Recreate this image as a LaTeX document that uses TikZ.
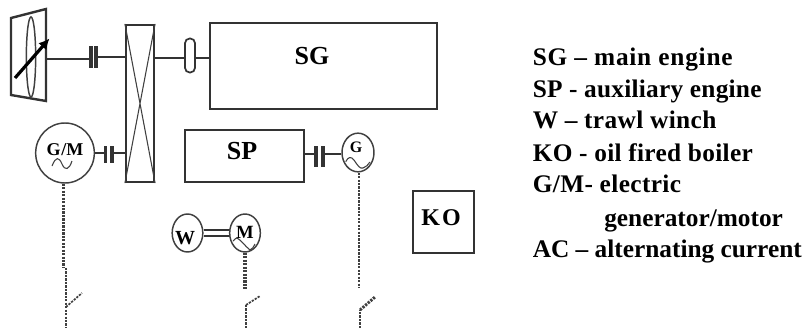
\documentclass[tikz,border=0pt]{standalone}
\usepackage{fontspec}
\setmainfont{Liberation Serif}
\usetikzlibrary{shapes.geometric,arrows.meta}
\newcommand{\lsp}[1]{\addfontfeature{LetterSpace=#1}}
\begin{document}
\begin{tikzpicture}[x=0.75pt,y=-0.75pt,
 ln/.style={draw=black!80,line width=1.3pt},
 thinl/.style={draw=black!75,line width=0.8pt},
 heavy/.style={draw=black!80,line width=1.8pt},
 box/.style={draw=black!80,line width=1.6pt,fill=white,inner sep=0pt,rectangle},
 circ/.style={draw=black!75,line width=1.1pt,fill=white,ellipse,inner sep=0pt},
 plate/.style={fill=black!80,draw=none,rectangle,inner sep=0pt,minimum width=2.4pt},
 lab/.style={font=\bfseries\fontsize{19.5}{22}\selectfont,inner sep=0pt},
 small/.style={font=\bfseries\fontsize{13.5}{15}\selectfont,inner sep=0pt},
 leg/.style={font=\bfseries\fontsize{19}{22}\selectfont,anchor=base west,inner sep=0pt},
 dsh/.style={draw=black!75,line width=1.7pt,dash pattern=on 1.7pt off 0.9pt},
 dshthin/.style={draw=black!75,line width=1.3pt,dash pattern=on 1.7pt off 0.9pt}]
\useasboundingbox (0,0) rectangle (806,328);

% fan
\draw[heavy,line join=miter] (11,18) -- (46,9) -- (46,101) -- (11,95) -- cycle;
\node[ellipse,draw=black!75,line width=1.1pt,minimum width=7pt,minimum height=60pt,inner sep=0pt] (blade) at (31,57) {};
\coordinate (fan) at (46,59);
\coordinate (pa) at (15,78);
\coordinate (pb) at (49.5,38.5);
\draw[draw=black,line width=2.4pt,-{Latex[length=8pt,width=8pt]}] (pa) -- (pb);

% boxes
\node[box,minimum width=21pt,minimum height=117.75pt] (gear) at (140,103.5) {};
\draw[thinl] (gear.north west) -- (gear.south east) (gear.north east) -- (gear.south west);
\node[box,minimum width=170.25pt,minimum height=64.5pt,lab] (SG) at (323.5,66) {};
\node[lab] (SGt) at (312,56.5) {SG};
\node[box,minimum width=89.25pt,minimum height=39pt] (SP) at (244.5,156) {};
\node[lab] (SPt) at (242,151.5) {SP};
\node[box,minimum width=45.75pt,minimum height=46.5pt] (KO) at (443.5,222) {};
\node[lab,font=\bfseries\fontsize{18}{20}\selectfont] (KOt) at (441,218) {K\kern1.5pt O};

% fan shaft and coupling
\node[plate,minimum height=16.5pt] (c1a) at (91,57) {};
\node[plate,minimum height=16.5pt] (c1b) at (96,57) {};
\draw[ln] (fan) -- (fan -| c1a.west);
\draw[heavy] (c1b.east) -- (c1b.east -| gear.west);

% oval on main shaft
\node[draw=black!80,line width=1.3pt,rectangle,rounded corners=3.5pt,minimum width=7.5pt,minimum height=25.5pt,inner sep=0pt] (oval) at (190,55.5) {};
\draw[ln] (gear.east |- 0,58) -- (oval.west |- 0,58);
\draw[heavy] (oval.east |- 0,58) -- (SG.west |- 0,58);

% G/M
\node[circ,minimum width=44pt,minimum height=45pt] (GM) at (65,153) {};
\node[small] (GMt) at (65,149.5) {G\kern0.5pt/M};
\draw[thinl] (52,166) .. controls (56,156) and (59,157) .. (62,164) .. controls (65,171) and (69,170) .. (72,161);
\node[plate,minimum height=13pt] (c2a) at (105.5,154.5) {};
\node[plate,minimum height=13pt] (c2b) at (112,154.5) {};
\draw[ln] (GM.east) -- (c2a.west |- GM.east);
\draw[ln] (c2b.east |- GM.east) -- (gear.west |- GM.east);

% SP coupling and G
\node[circ,minimum width=24pt,minimum height=29pt] (G) at (358,152.5) {};
\node[small,font=\bfseries\fontsize{12}{14}\selectfont] (Gt) at (356,147) {G};
\draw[thinl] (345.7,161.7) .. controls (348,157) and (351,156) .. (354,160) .. controls (358,166) and (360,169) .. (363,168) .. controls (366,167) and (368,165) .. (370,162);
\node[plate,minimum height=16pt] (c3a) at (316,156.5) {};
\node[plate,minimum height=16pt] (c3b) at (323,156.5) {};
\draw[ln] (SP.east |- 0,154) -- (c3a.west |- 0,154);
\draw[ln] (c3b.east |- 0,154) -- (G.west |- 0,154);

% W and M
\node[circ,minimum width=23pt,minimum height=28.5pt] (W) at (187.5,233) {};
\node[small,font=\bfseries\fontsize{15}{17}\selectfont] (Wt) at (185,238) {W};
\node[circ,minimum width=23pt,minimum height=28.5pt] (M) at (245,233) {};
\node[small,font=\bfseries\fontsize{14}{16}\selectfont] (Mt) at (245,232) {M};
\draw[thinl] (233,241) .. controls (235,239) and (236,238) .. (237,238) .. controls (241,240) and (245,246) .. (250,250) .. controls (252,249) and (254,247) .. (255,244);
\draw[heavy] (W.east |- 0,230) -- (M.west |- 0,230);
\draw[heavy] (W.east |- 0,236) -- (M.west |- 0,236);

% feeders with switches
\coordinate (a1) at (63.5,268);
\coordinate (a2) at (66,268);
\coordinate (a3) at (66,307);
\coordinate (a4) at (82,293);
\coordinate (a5) at (66,328);
\draw[dsh] (GM.south -| a1) -- (a1);
\draw[dsh] (a2) -- (a3) -- (a5);
\draw[dshthin] (a3) -- (a4);

\coordinate (b1) at (245,289);
\coordinate (b2) at (246,328);
\coordinate (b3) at (246,305);
\coordinate (b4) at (260,296);
\draw[dsh,line width=2.6pt] (M.south) -- (b1);
\draw[dsh] (b2) -- (b3);
\draw[dshthin] (b3) -- (b4);

\coordinate (d1) at (359,288);
\coordinate (d2) at (360,328);
\coordinate (d3) at (360,310);
\coordinate (d4) at (375,297);
\draw[dsh] (G.south -| d1) -- (d1);
\draw[dsh] (d2) -- (d3);
\draw[dsh,line width=2.2pt] (d3) -- (d4);

% legend
\node[leg] (l1) at (532.5,65) {\lsp{3}SG – main engine};
\node[leg] (l2) at (532.5,97.5) {\lsp{1}SP - auxiliary engine};
\node[leg] (l3) at (532.5,128) {\lsp{1.5}W – trawl winch};
\node[leg] (l4) at (532.5,161) {\lsp{1.3}KO - oil fired boiler};
\node[leg] (l5) at (532.5,192) {\lsp{1.5}G/M- electric};
\node[leg] (l6) at (604,226) {generator/motor};
\node[leg] (l7) at (532.5,257) {AC – alternating current};
\end{tikzpicture}
\end{document}
